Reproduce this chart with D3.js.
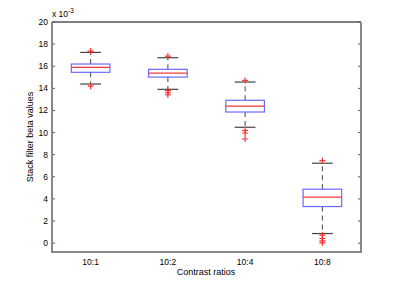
<!DOCTYPE html>
<html>
<head>
<meta charset="utf-8">
<script src="https://cdn.jsdelivr.net/npm/d3@7"></script>
<style>
  body { margin: 0; background: #fff; }
  text { font-family: "Liberation Sans", Arial, sans-serif; }
</style>
</head>
<body>
<div id="chart"></div>
<script>
// values in units of 1e-3
const categories = ['10:1', '10:2', '10:4', '10:8']
const lowerWhisker = [14.39, 13.91, 10.48, 0.87]
const q1 = [15.45, 15.02, 11.86, 3.31]
const medians = [15.9, 15.38, 12.4, 4.16]
const q3 = [16.2, 15.72, 12.92, 4.88]
const upperWhisker = [17.25, 16.77, 14.57, 7.23]
const outliers = [
  [17.37, 14.2],
  [16.92, 13.79, 13.6, 13.42],
  [14.72, 10.2, 9.96, 9.42],
  [7.46, 0.72, 0.42, 0.21, 0.03]
]
const yTicks = [0, 2, 4, 6, 8, 10, 12, 14, 16, 18, 20]

const width = 399
const height = 300
const pLeft = 52, pRight = 361, pTop = 22, pBottom = 252

const svg = d3.select('#chart').append('svg')
  .attr('width', width)
  .attr('height', height)

const x = d3.scaleLinear().domain([0.5, 4.5]).range([pLeft, pRight])
const y = d3.scaleLinear().domain([-0.8, 20]).range([pBottom, pTop])

// frame: top thin black, others gray
svg.append('line').attr('x1', pLeft).attr('x2', pRight).attr('y1', pTop).attr('y2', pTop)
  .attr('stroke', '#000').attr('stroke-width', 1)

// ticks on left and right, pointing inward
yTicks.forEach(function (t) {
  svg.append('line').attr('x1', pLeft).attr('x2', pLeft + 3).attr('y1', y(t)).attr('y2', y(t))
    .attr('stroke', '#555').attr('stroke-width', 1)
  svg.append('line').attr('x1', pRight - 3).attr('x2', pRight).attr('y1', y(t)).attr('y2', y(t))
    .attr('stroke', '#555').attr('stroke-width', 1)
})

svg.selectAll('.ylab')
  .data(yTicks)
  .enter().append('text')
  .attr('class', 'ylab')
  .attr('x', pLeft - 4)
  .attr('y', function (d) { return y(d) + 3 })
  .attr('text-anchor', 'end')
  .attr('font-size', 8.5)
  .text(function (d) { return d })

svg.append('line').attr('x1', pLeft).attr('x2', pLeft).attr('y1', pTop).attr('y2', pBottom + 1)
  .attr('stroke', '#888').attr('stroke-width', 2)
svg.append('line').attr('x1', pRight).attr('x2', pRight).attr('y1', pTop).attr('y2', pBottom + 1)
  .attr('stroke', '#888').attr('stroke-width', 2)
svg.append('line').attr('x1', pLeft - 1).attr('x2', pRight + 1).attr('y1', pBottom).attr('y2', pBottom)
  .attr('stroke', '#888').attr('stroke-width', 2)

// exponent label
const ex = svg.append('text').attr('x', pLeft).attr('y', 17).attr('font-size', 8.5)
ex.append('tspan').text('x 10')
ex.append('tspan').attr('dy', -4).attr('font-size', 6.5).text('-3')

// x tick labels
svg.selectAll('.xlab')
  .data(categories)
  .enter().append('text')
  .attr('class', 'xlab')
  .attr('x', function (d, i) { return x(i + 1) })
  .attr('y', 265)
  .attr('text-anchor', 'middle')
  .attr('font-size', 8.5)
  .text(function (d) { return d })

svg.append('text').attr('x', 206).attr('y', 275).attr('text-anchor', 'middle')
  .attr('font-size', 9).text('Contrast ratios')

svg.append('text').attr('transform', 'translate(33,' + ((pTop + pBottom) / 2) + ') rotate(-90)')
  .attr('text-anchor', 'middle').attr('font-size', 9).text('Stack filter beta values')

const boxW = 0.5
const capW = 0.25

categories.forEach(function (c, i) {
  const cx = i + 1
  const g = svg.append('g')
  // whiskers
  g.append('line').attr('x1', x(cx)).attr('x2', x(cx))
    .attr('y1', y(q3[i])).attr('y2', y(upperWhisker[i]))
    .attr('stroke', '#444').attr('stroke-dasharray', '5,4')
  g.append('line').attr('x1', x(cx)).attr('x2', x(cx))
    .attr('y1', y(q1[i])).attr('y2', y(lowerWhisker[i]))
    .attr('stroke', '#444').attr('stroke-dasharray', '5,4')
  // caps
  g.append('line').attr('x1', x(cx - capW / 2 - 0.01)).attr('x2', x(cx + capW / 2 + 0.01))
    .attr('y1', y(upperWhisker[i])).attr('y2', y(upperWhisker[i]))
    .attr('stroke', '#444').attr('stroke-width', 1.2)
  g.append('line').attr('x1', x(cx - capW / 2 - 0.01)).attr('x2', x(cx + capW / 2 + 0.01))
    .attr('y1', y(lowerWhisker[i])).attr('y2', y(lowerWhisker[i]))
    .attr('stroke', '#444').attr('stroke-width', 1.2)
  // box
  g.append('rect')
    .attr('x', x(cx - boxW / 2)).attr('width', x(cx + boxW / 2) - x(cx - boxW / 2))
    .attr('y', y(q3[i])).attr('height', y(q1[i]) - y(q3[i]))
    .attr('fill', 'none').attr('stroke', '#6a6aff').attr('stroke-width', 1.2)
  g.append('line').attr('x1', x(cx - boxW / 2)).attr('x2', x(cx + boxW / 2))
    .attr('y1', y(medians[i])).attr('y2', y(medians[i]))
    .attr('stroke', '#f03a3a').attr('stroke-width', 1.2)
  // outliers
  outliers[i].forEach(function (v) {
    const px = x(cx), py = y(v)
    g.append('path').attr('d', 'M' + (px - 3) + ',' + py + 'H' + (px + 3) + 'M' + px + ',' + (py - 3) + 'V' + (py + 3))
      .attr('stroke', '#ff3030').attr('stroke-width', 1.2)
  })
})
</script>
</body>
</html>
